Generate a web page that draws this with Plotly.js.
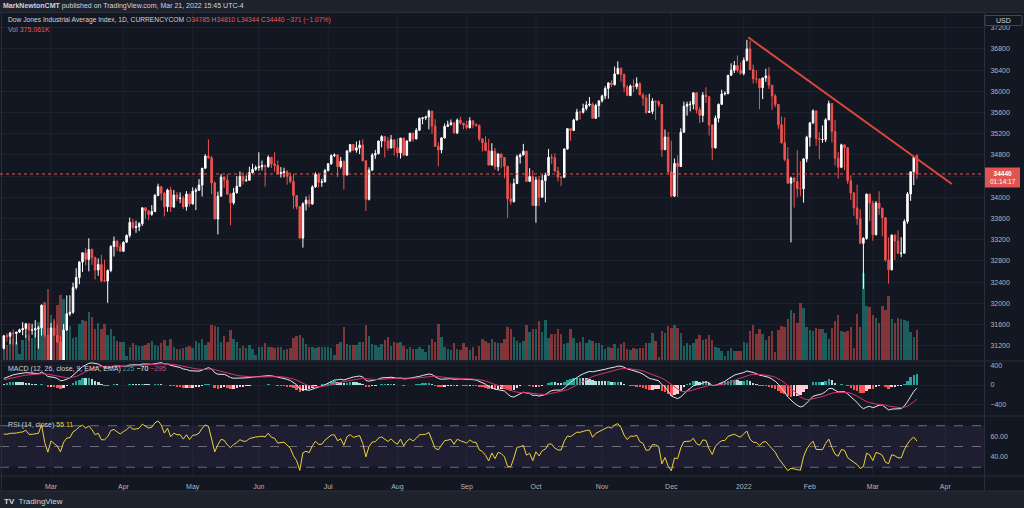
<!DOCTYPE html>
<html><head><meta charset="utf-8">
<script src="https://cdn.plot.ly/plotly-3.0.1.min.js"></script>
<style>html,body{margin:0;padding:0;background:#131722;}#chart{width:1024px;height:508px;}</style>
</head><body><div id="chart"></div>
<script>
// ---- Data: daily bars, Feb 8 2021 .. Mar 21 2022 (index 0 = Feb 8 2021) ----
const opens = [
 31148,31386,31376,31438,31431,31458,31500,31523,31613,31494,31496,31522,31537,31962,31402,
 30932,31535,31391,31270,30924,31496,31802,31832,32297,32486,32779,32953,32826,33015,32862,32628,32732,32423,32420,32619,33072,33171,33067,
 32982,33153,33280,33527,33430,33446,33503,33801,33746,33677,33730,34036,34200,34078,33821,34137,33815,34043,33981,33985,33821,34060,
 33875,34113,34133,34230,34548,34778,34743,34270,33590,34022,34382,34327,34061,33896,34084,34208,34394,34313,34323,34465,34529,
 34560,34575,34600,34577,34756,34630,34600,34447,34466,34480,34394,34299,34033,33823,33230,33876,33946,33874,34196,34433,34283,34292,
 34503,34634,34786,34800,34577,34681,34422,34870,34996,34889,34933,34987,34688,33962,34512,34798,34823,35062,35145,35058,34931,35085,
 34935,34838,35117,34793,35064,35209,35101,35265,35485,35500,35516,35625,35343,34961,34894,35120,35336,35367,35406,35214,35456,35400,
 35361,35313,35444,35369,35360,35100,35031,34879,34608,34870,34578,34814,34751,34585,33970,33919,34258,34765,34798,34870,34300,34391,
 33844,34326,34003,34315,34417,34755,34746,34496,34378,34377,34912,35295,35259,35458,35609,35603,35677,35741,35757,35491,35731,
 35820,35913,36053,36158,36124,36328,36432,36320,36080,35921,36100,36087,36143,35931,35871,35602,35619,35814,35804,35750,34899,35136,
 34484,34022,34640,34580,35227,35719,35754,35755,35971,35650,35545,35927,35898,35365,34932,35493,35754,35951,35960,36302,36398,36488,36398,
 36338,36585,36800,36408,36236,36232,36068,36252,36290,36114,35912,35750,35369,35029,34715,34265,34365,34298,34168,34161,34725,
 35132,35405,35630,35111,35089,35091,35463,35768,35242,34738,34566,34989,34934,34312,34079,33800,33597,33131,33224,34059,
 33893,33294,33891,33795,33615,32818,32633,33286,33174,32944,32945,33544,34063,34481,34785];
const highs = [
 31406,31433,31464,31509,31459,31520,31644,31627,31620,31614,31682,31574,31981,32010,31536,
 31628,31668,31594,31385,31611,32150,32150,32389,32661,32793,32953,33047,33227,33035,32880,32846,32914,32823,32637,33098,33259,33199,33127,
 33167,33300,33617,33593,33560,33533,33810,33810,33750,33852,34063,34257,34210,34100,34163,34200,34137,34097,34091,34028,34117,34070,
 34187,34179,34344,34549,34811,35091,34780,34300,34107,34437,34394,34434,34080,34175,34400,34487,34470,34413,34576,34632,34600,
 34849,34693,34620,34793,34760,34850,34694,34570,34557,34514,34465,34440,34040,33830,33906,34016,34051,34227,34470,34466,34350,34536,
 34640,34811,34830,34816,34760,34690,34894,35000,35002,35052,35072,35092,34700,34566,34834,34895,35067,35171,35150,35137,35175,35090,
 35112,35120,35125,35069,35214,35225,35306,35507,35512,35539,35653,35630,35475,35040,35135,35391,35445,35468,35419,35486,35521,35402,
 35446,35511,35450,35400,35370,35110,35149,35101,35020,34932,34834,34837,34760,34590,34263,34354,34804,34832,35008,34880,34549,34507,
 34387,34400,34425,34464,34912,34817,34829,34574,34402,34918,35295,35300,35482,35669,35633,35765,35814,35892,35790,35765,35820,
 35936,36097,36172,36210,36466,36565,36451,36330,36119,36127,36224,36264,36170,35972,35934,35953,35870,35821,35830,35760,35278,35233,
 35066,34731,34791,35302,35805,35803,35817,35971,35980,35704,35983,36077,35900,35370,35544,35769,36029,36000,36306,36527,36572,36679,36549,
 36638,36970,36953,36504,36400,36240,36253,36424,36459,36120,35950,35760,35520,35505,34947,34388,34374,34890,34680,34729,35160,
 35407,35660,35640,35228,35355,35491,35824,35780,35459,34857,35011,34996,34940,34412,34100,34239,33775,33246,34072,34070,
 33938,33931,34114,33800,33620,33242,33299,33300,33375,33245,33584,34100,34481,34764,34810];
const lows = [
 31130,31276,31229,31214,31224,31440,31398,31347,31288,31406,31354,31144,31390,31361,30858,
 30900,31390,31255,30690,30548,31480,31760,31800,32260,32361,32592,32716,32603,32727,32451,32519,32396,32407,32008,32586,32883,32985,32968,
 32970,33140,33240,33397,33330,33362,33460,33593,33572,33650,33720,34020,33939,33640,33728,33721,33800,33930,33890,33779,33746,33826,
 33860,33758,34120,34017,34540,34728,34060,33587,33300,34010,34177,34044,33473,33860,34070,34200,34241,34291,34310,34450,34500,
 34500,34508,34203,34560,34553,34484,34424,34373,34376,34238,34263,33782,33772,33220,33050,33752,33812,33860,34180,34185,34197,34280,
 34490,34611,34760,34380,34542,34145,34410,34843,34872,34842,34814,34681,33741,33940,34500,34724,34810,34942,34749,34876,34920,34785,
 34750,34731,34780,34780,35047,35048,35090,35250,35377,35456,35280,35193,34950,34580,34830,35110,35325,35358,35209,35192,35375,35283,
 35280,35300,35301,35330,35060,34863,34879,34605,34600,34520,34497,34549,34358,33613,33859,33900,34250,34636,34790,34290,34290,33837,
 33520,33831,33990,33906,34410,34632,34479,34298,34211,34370,34900,35066,35250,35450,35465,35579,35636,35711,35480,35480,35512,
 35788,35853,35860,36078,36110,36320,36180,35983,35915,35907,35981,36038,35929,35725,35574,35590,35569,35461,35700,34764,34890,34445,
 34006,34007,34006,34570,35220,35541,35620,35661,35582,35400,35418,35781,35165,34700,34920,35413,35740,35920,35940,36290,36345,36354,36314,
 36300,36560,36407,36145,36155,35660,35853,36177,36045,35650,35700,35290,35013,34678,34259,33150,33805,33997,34020,33900,34660,
 34958,35380,34971,34718,35028,35042,35450,35031,34597,34353,34550,34511,34254,33948,33650,33479,33131,32272,33200,33553,
 33180,33280,33670,33263,32786,32370,32620,32814,32928,32870,32940,33500,33933,34230,34344];
const closes = [
 31386,31376,31438,31431,31458,31500,31523,31613,31494,31496,31522,31537,31962,31402,30932,
 31535,31391,31270,30924,31496,31802,31832,32297,32486,32779,32953,32826,33015,32862,32628,32732,32423,32420,32619,33072,33171,33067,32982,
 33153,33280,33527,33430,33446,33503,33801,33746,33677,33730,34036,34200,34078,33821,34137,33815,34043,33981,33985,33821,34060,33875,
 34113,34133,34230,34548,34778,34743,34270,33590,34022,34382,34327,34061,33896,34084,34208,34394,34313,34323,34465,34529,34560,
 34575,34600,34577,34756,34630,34600,34447,34466,34480,34394,34299,34033,33823,33230,33876,33946,33874,34196,34433,34283,34292,34503,
 34634,34786,34800,34577,34681,34422,34870,34996,34889,34933,34987,34688,33962,34512,34798,34823,35062,35145,35058,34931,35085,34935,
 34838,35117,34793,35064,35209,35101,35265,35485,35500,35516,35625,35343,34961,34894,35120,35336,35367,35406,35214,35456,35400,35361,
 35313,35444,35369,35360,35100,35031,34879,34608,34870,34578,34814,34751,34585,33970,33919,34258,34765,34798,34870,34300,34391,33844,
 34326,34003,34315,34417,34755,34746,34496,34378,34377,34912,35295,35259,35458,35609,35603,35677,35741,35757,35491,35731,35820,
 35913,36053,36158,36124,36328,36432,36320,36080,35921,36100,36087,36143,35931,35871,35602,35619,35814,35804,35750,34899,35136,34484,
 34022,34640,34580,35227,35719,35754,35755,35971,35650,35545,35927,35898,35365,34932,35493,35754,35951,35960,36302,36398,36488,36398,36338,
 36585,36800,36408,36236,36232,36068,36252,36290,36114,35912,35750,35369,35029,34715,34265,34365,34298,34168,34161,34725,35132,
 35405,35630,35111,35089,35091,35463,35768,35242,34738,34566,34989,34934,34312,34079,33800,33597,33131,33224,34059,33893,
 33294,33891,33795,33615,32818,32633,33286,33174,32944,32945,33544,34063,34481,34755,34440];
// volume in thousands
const volumes = [
 188,188,250,275,225,75,250,313,313,275,350,475,438,725,888,
 563,513,688,813,763,375,425,275,288,450,500,488,600,538,388,463,388,450,313,388,300,238,225,
 225,50,163,213,188,175,175,188,213,238,188,175,213,250,175,263,163,138,138,150,163,175,
 150,238,213,263,188,225,438,425,413,225,300,225,375,263,225,150,175,150,188,138,63,
 163,163,213,163,163,150,163,163,125,138,150,275,300,313,275,200,163,163,150,163,163,163,
 163,150,63,200,225,413,200,188,188,188,225,225,438,300,200,188,163,200,250,288,175,225,
 213,225,175,138,163,138,138,163,138,100,188,263,225,450,288,163,138,125,213,138,125,213,
 163,125,163,50,175,263,238,213,263,225,213,213,263,413,388,288,238,213,238,438,350,388,
 388,488,350,500,275,325,325,388,325,200,213,388,275,213,225,288,213,250,238,213,213,
 188,138,163,150,200,150,200,225,138,125,150,138,150,150,213,213,338,238,38,363,338,425,
 400,438,400,338,175,213,188,213,263,313,250,263,313,250,163,150,113,50,113,150,113,113,113,
 225,213,363,438,325,388,325,250,300,363,100,375,425,413,513,625,588,463,713,650,413,
 375,363,400,388,388,338,263,400,488,563,363,350,363,413,150,575,413,1088,675,663,
 563,525,463,675,625,800,513,463,525,513,500,488,350,288,375.061];
// closes before the visible range (Dec 2020 - Feb 5 2021), used only to warm up MACD / RSI
const warmupCloses = [29824,29884,29970,30218,30070,30174,30069,29999,30046,29862,30200,30155,30304,30179,30216,30016,30129,30200,30404,30336,30409,30606,
 30224,30392,30829,31041,31098,31009,31068,31061,31112,30814,30931,31188,31176,30997,30960,30937,30303,30603,29983,30212,30688,30724,31056,31148];
// month tick positions (bar index of first bar of month) and labels
const monthIdx  = [15,38,60,81,103,125,147,169,190,212,235,256,276,299];
const monthText = ['Mar','Apr','May','Jun','Jul','Aug','Sep','Oct','Nov','Dec','2022','Feb','Mar','Apr'];
const priceTicks = [31200,31600,32000,32400,32800,33200,33600,34000,34400,34800,35200,35600,36000,36400,36800,37200];
// trendline drawn on the chart (bar index, price)
const trendIdx = [236.4, 301.1];
const trendPrice = [37019, 34250];
const lastPrice = 34440;

// ---- indicators ----
function ema(src, n){
  const k = 2/(n+1), out = new Array(src.length).fill(null);
  let sum=0, cnt=0, prev=null;
  for(let i=0;i<src.length;i++){
    const v=src[i]; if(v===null) continue;
    if(prev===null){ sum+=v; cnt++; if(cnt===n){prev=sum/n; out[i]=prev;} }
    else { prev=v*k+prev*(1-k); out[i]=prev; }
  }
  return out;
}
function rsi(src, n){
  const out=new Array(src.length).fill(null); let ag=0, al=0;
  for(let i=1;i<src.length;i++){
    const ch=src[i]-src[i-1], g=Math.max(ch,0), l=Math.max(-ch,0);
    if(i<=n){ ag+=g; al+=l; if(i===n){ag/=n; al/=n; out[i]=al===0?100:100-100/(1+ag/al);} }
    else { ag=(ag*(n-1)+g)/n; al=(al*(n-1)+l)/n; out[i]=al===0?100:100-100/(1+ag/al); }
  }
  return out;
}
const allC = warmupCloses.concat(closes);
const e12 = ema(allC,12), e26 = ema(allC,26);
const macdAll = allC.map((_,i)=> (e12[i]!==null && e26[i]!==null) ? e12[i]-e26[i] : null);
const sigAll = ema(macdAll, 9);
const W = warmupCloses.length;
const macd = macdAll.slice(W), signal = sigAll.slice(W);
const hist = macd.map((m,i)=> m-signal[i]);
const rsiV = rsi(allC,14).slice(W);
const idx = closes.map((_,i)=>i);

const histColors = hist.map((h,i)=>{
  const p = i>0 ? hist[i-1] : h;
  if(h>=0) return h>p ? '#26a69a' : '#b2dfdb';
  return h<p ? '#ff5252' : '#ffcdd2';
});
const volColors = closes.map((c,i)=> c>=opens[i] ? 'rgba(38,166,154,0.5)' : 'rgba(239,83,80,0.5)');

// ---- layout helpers (pixel -> paper) ----
const PX = x => x/984;
const PY = y => (476 - y)/463;
const FONT = 'Liberation Sans, Arial, sans-serif';
const AX = '#b2b5be';

const traces = [
  {type:'bar', x:idx, y:volumes, xaxis:'x', yaxis:'y', marker:{color:volColors, line:{width:0}}, width:0.78, hoverinfo:'skip'},
  {type:'candlestick', x:idx, open:opens, high:highs, low:lows, close:closes, xaxis:'x', yaxis:'y2',
   increasing:{line:{color:'#ffffff', width:1}, fillcolor:'#ffffff'},
   decreasing:{line:{color:'#ef5350', width:1}, fillcolor:'#ef5350'},
   whiskerwidth:0, hoverinfo:'skip'},
  {type:'bar', x:idx, y:hist, xaxis:'x', yaxis:'y3', marker:{color:histColors, line:{width:0}}, width:0.8, hoverinfo:'skip'},
  {type:'scatter', mode:'lines', x:idx, y:macd, xaxis:'x', yaxis:'y3', line:{color:'#e8e8ec', width:1}, hoverinfo:'skip'},
  {type:'scatter', mode:'lines', x:idx, y:signal, xaxis:'x', yaxis:'y3', line:{color:'#d8336d', width:1}, hoverinfo:'skip'},
  {type:'scatter', mode:'lines', x:idx, y:rsiV, xaxis:'x', yaxis:'y4', line:{color:'#eed43a', width:1}, hoverinfo:'skip'}
];

const shapes = [];
monthIdx.forEach(m=> shapes.push({type:'line', xref:'x', yref:'paper', x0:m, x1:m, y0:0, y1:1, line:{color:'#1e222d', width:1}, layer:'below'}));
shapes.push({type:'rect', xref:'paper', yref:'y4', x0:0, x1:1, y0:30, y1:70, fillcolor:'rgba(126,87,194,0.10)', line:{width:0}, layer:'below'});
[70,50,30].forEach(v=> shapes.push({type:'line', xref:'paper', yref:'y4', x0:0, x1:1, y0:v, y1:v, line:{color:'#6a6d78', width:1, dash:'dash'}, layer:'below'}));
shapes.push({type:'rect', xref:'paper', yref:'paper', x0:PX(0), x1:PX(1024), y0:PY(12.5), y1:PY(0), fillcolor:'#1e222d', line:{width:0}});
shapes.push({type:'rect', xref:'paper', yref:'paper', x0:PX(0), x1:PX(1024), y0:PY(508), y1:PY(491), fillcolor:'#1e222d', line:{width:0}});
[12.5, 361, 416, 476, 491].forEach(y=> shapes.push({type:'line', xref:'paper', yref:'paper', x0:PX(0), x1:PX(1024), y0:PY(y), y1:PY(y), line:{color:'#2a2e39', width:1}}));
shapes.push({type:'line', xref:'paper', yref:'paper', x0:PX(984.5), x1:PX(984.5), y0:PY(491), y1:PY(12.5), line:{color:'#2a2e39', width:1}});
shapes.push({type:'line', xref:'paper', yref:'paper', x0:PX(1.5), x1:PX(1.5), y0:PY(491), y1:PY(12.5), line:{color:'#2a2e39', width:1}});
shapes.push({type:'line', xref:'paper', yref:'y2', x0:0, x1:1, y0:lastPrice, y1:lastPrice, line:{color:'#ef5350', width:1, dash:'dot'}});
shapes.push({type:'line', xref:'x', yref:'y2', x0:trendIdx[0], x1:trendIdx[1], y0:trendPrice[0], y1:trendPrice[1], line:{color:'#d9473b', width:2}});
shapes.push({type:'rect', xref:'paper', yref:'paper', x0:PX(985), x1:PX(1020), y0:PY(187.5), y1:PY(167.5), fillcolor:'#e0554f', line:{width:0}});
shapes.push({type:'rect', xref:'paper', yref:'paper', x0:PX(985), x1:PX(1022), y0:PY(25.5), y1:PY(15.5), fillcolor:'#131722', line:{color:'#434651', width:1}});

const red = '#ef5350';
const ann = (x,y,text,opts={}) => Object.assign({xref:'paper', yref:'paper', x:PX(x), y:PY(y), text, showarrow:false, xanchor:'left', yanchor:'middle',
  borderpad:0, font:{family:FONT, size:7, color:'#d1d4dc'}}, opts);
const g = s => '<span style="color:#9598a1">'+s+'</span>';
const r = s => '<span style="color:'+red+'">'+s+'</span>';
const annotations = [
  ann(2, 6, '<b>MarkNewtonCMT</b> published on TradingView.com, Mar 21, 2022 15:45 UTC-4'),
  ann(7, 20, 'Dow Jones Industrial Average Index, 1D, CURRENCYCOM '+g('O')+r('34785')+' '+g('H')+r('34810')+' '+g('L')+r('34344')+' '+g('C')+r('34440')+' '+r('−371 (−1.07%)'), {font:{family:FONT, size:6.7, color:'#d1d4dc'}}),
  ann(7, 30, g('Vol')+' '+r('375.061K')),
  ann(7, 369, 'MACD (12, 26, close, 9, EMA, EMA) <span style="color:#26a69a">225</span> <span style="color:#ffffff">−70</span> <span style="color:#e0437a">−295</span>'),
  ann(7, 425, 'RSI (14, close) <span style="color:#eed43a">55.11</span>'),
  ann(1002.5, 177.5, '<b>34440</b><br>01:14:17', {xanchor:'center', align:'center', font:{family:FONT, size:6.5, color:'#ffffff'}}),
  ann(1003.5, 20.5, 'USD', {xanchor:'center', font:{family:FONT, size:7, color:'#d1d4dc'}}),
  ann(3, 501, '<b>TV</b>  TradingView', {font:{family:FONT, size:8, color:'#d1d4dc'}})
];

const layout = {
  width:1024, height:508, paper_bgcolor:'#131722', plot_bgcolor:'rgba(0,0,0,0)',
  margin:{l:0, r:40, t:13, b:32}, showlegend:false, hovermode:false, dragmode:false,
  bargap:0, font:{family:FONT, size:7, color:AX},
  xaxis:{range:[-1.2, 311.3], anchor:'y4', tickvals:monthIdx, ticktext:monthText, showgrid:false, zeroline:false, showline:false,
         ticks:'outside', ticklen:4, tickcolor:'rgba(0,0,0,0)', tickfont:{family:FONT, size:7, color:AX}, rangeslider:{visible:false}, fixedrange:true},
  yaxis:{domain:[PY(360),1], range:[0, 4337.5], visible:false, fixedrange:true},
  // the 34400 label is hidden behind the last-price box, as in the reference
  yaxis2:{overlaying:'y', side:'right', range:[30930, 37477], tickvals:priceTicks, ticktext:priceTicks.map(v=> v===34400 ? '' : String(v)),
          showgrid:true, gridcolor:'#1e222d', zeroline:false, showline:false, ticks:'outside', ticklen:4, tickcolor:'rgba(0,0,0,0)',
          tickfont:{family:FONT, size:7, color:AX}, fixedrange:true},
  yaxis3:{domain:[PY(416), PY(361.5)], anchor:'x', side:'right', range:[-646, 490], tickvals:[-400,0,400], ticktext:['−400','0','400'],
          showgrid:true, gridcolor:'#1e222d', zeroline:false, showline:false, ticks:'outside', ticklen:4, tickcolor:'rgba(0,0,0,0)',
          tickfont:{family:FONT, size:7, color:AX}, fixedrange:true},
  yaxis4:{domain:[0, PY(417)], anchor:'x', side:'right', range:[21.6, 78.4], tickvals:[40,60], ticktext:['40.00','60.00'],
          showgrid:true, gridcolor:'#1e222d', zeroline:false, showline:false, ticks:'outside', ticklen:4, tickcolor:'rgba(0,0,0,0)',
          tickfont:{family:FONT, size:7, color:AX}, fixedrange:true},
  shapes, annotations
};
Plotly.newPlot('chart', traces, layout, {staticPlot:true, displayModeBar:false});
</script>
</body></html>
